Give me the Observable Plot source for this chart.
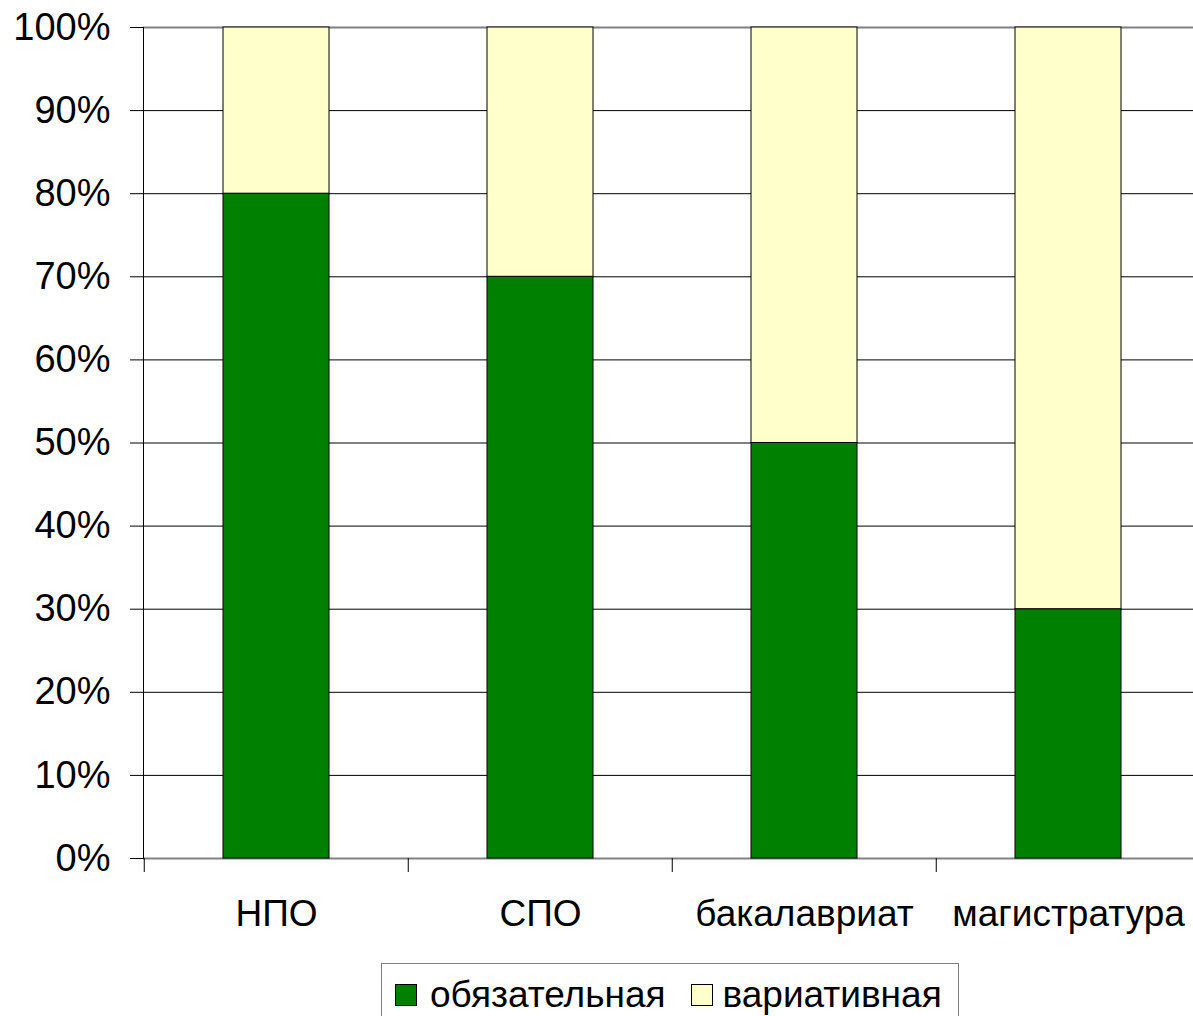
<!DOCTYPE html>
<html><head><meta charset="utf-8">
<script src="https://cdn.jsdelivr.net/npm/d3@7"></script>
<script src="https://cdn.jsdelivr.net/npm/@observablehq/plot@0.6"></script>
<style>
body{margin:0;background:#fff;font-family:"Liberation Sans",Arial,sans-serif;}
#wrap{position:relative;width:1193px;height:1016px;overflow:hidden;}
#legend{position:absolute;left:381px;top:963px;width:578px;height:70px;border:1px solid #808080;box-sizing:border-box;font-size:37px;color:#000;}
#legend .items{position:absolute;left:13px;top:0;height:62px;display:flex;align-items:center;}
#legend .it{display:flex;align-items:center;}
#legend .sw{width:22px;height:22px;border:1px solid #000;box-sizing:border-box;margin-right:13px;}
#legend .it + .it{margin-left:25px;}
#legend .it + .it .sw{margin-right:10px;}
</style></head>
<body><div id="wrap"><div id="chart"></div><div id="legend"><div class="items"></div></div></div>
<script>
const categories = ["НПО", "СПО", "бакалавриат", "магистратура"];
const mandatory = [0.8, 0.7, 0.5, 0.3];
const variative = [0.2, 0.3, 0.5, 0.7];
const seriesNames = ["обязательная", "вариативная"];
const seriesColors = ["#008000", "#FFFFCC"];
const yTicks = [0, 0.1, 0.2, 0.3, 0.4, 0.5, 0.6, 0.7, 0.8, 0.9, 1];
const innerGrid = [0.1, 0.2, 0.3, 0.4, 0.5, 0.6, 0.7, 0.8, 0.9];
const edgeGrid = [0, 1];

const rows = categories.flatMap((c, i) => [
  {cat: c, series: seriesNames[0], value: mandatory[i]},
  {cat: c, series: seriesNames[1], value: variative[i]}
]);

const W = 1193, H = 950;
const xRange = [143, 1201];
const step = (xRange[1] - xRange[0]) / categories.length;

const chart = Plot.plot({
  width: W, height: H,
  marginLeft: 143, marginRight: 0, marginTop: 27, marginBottom: 92,
  style: {fontFamily: '"Liberation Sans", Arial, sans-serif', fontSize: "37px", color: "#000", background: "#fff"},
  x: {domain: categories, range: xRange, paddingInner: 0.6, paddingOuter: 0.3, label: null},
  y: {domain: [0, 1], label: null},
  color: {domain: seriesNames, range: seriesColors},
  marks: [
    Plot.ruleY(innerGrid, {stroke: "#000", strokeWidth: 1}),
    Plot.ruleY(edgeGrid, {stroke: "#808080", strokeWidth: 2}),
    Plot.barY(rows, {x: "cat", y: "value", fill: "series", stroke: "#000", strokeWidth: 1}),
    Plot.frame({anchor: "left", stroke: "#000", strokeWidth: 1}),
    Plot.ruleX(categories, {x: d => d, dx: -step / 2, y1: 0, y2: -14 / 831, stroke: "#000", strokeWidth: 1}),
    Plot.axisY({ticks: yTicks, tickFormat: d3.format(".0%"), tickSize: 13, tickPadding: 20, stroke: "#000", fontSize: 38}),
    Plot.axisX({tickSize: 0, tickPadding: 41, fontSize: 37})
  ]
});
document.getElementById("chart").appendChild(chart);

const items = document.querySelector("#legend .items");
seriesNames.forEach((n, i) => {
  const it = document.createElement("div");
  it.className = "it";
  const sw = document.createElement("div");
  sw.className = "sw";
  sw.style.background = seriesColors[i];
  const t = document.createElement("span");
  t.textContent = n;
  it.appendChild(sw); it.appendChild(t);
  items.appendChild(it);
});
</script>
</body></html>
